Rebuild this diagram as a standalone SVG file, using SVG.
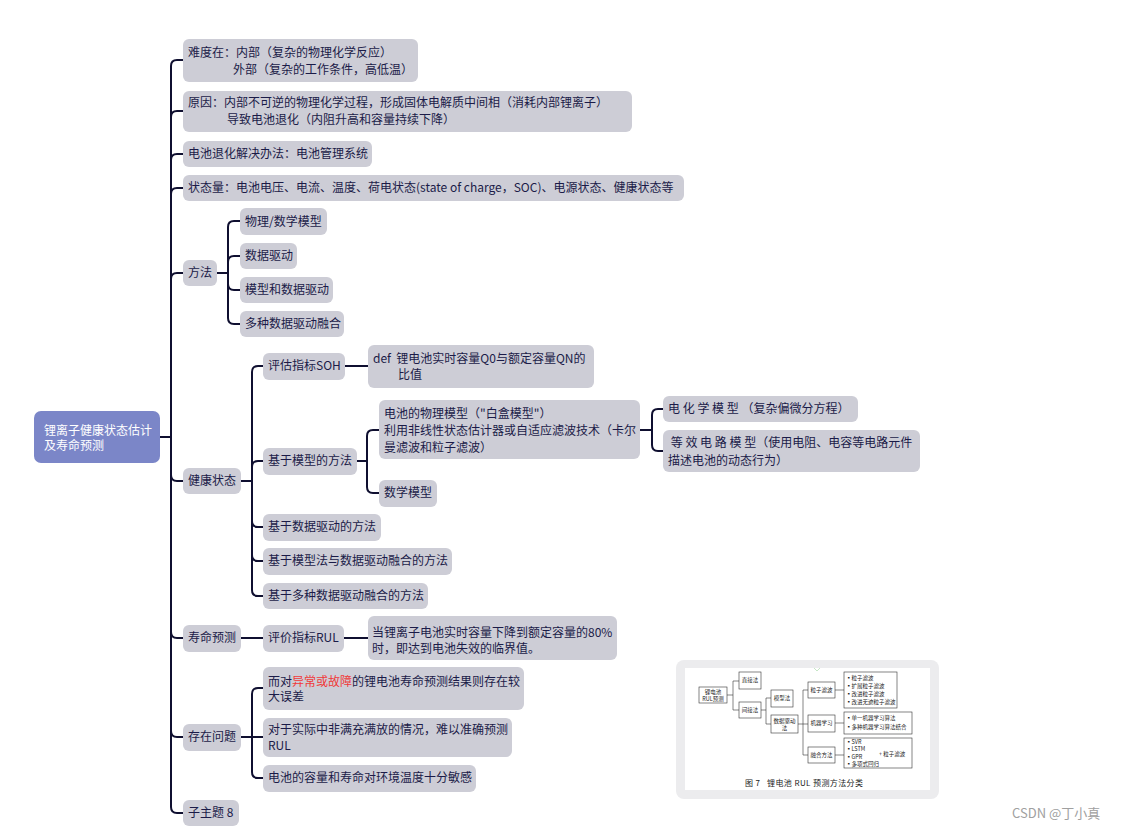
<svg xmlns="http://www.w3.org/2000/svg" width="1126" height="831" viewBox="0 0 1126 831">
<style>
.n{fill:#cdcdd6}
.t{font-family:"Noto Sans CJK SC","Noto Sans",sans-serif;font-size:12px;fill:#1b1b48}
.r{fill:#f03a3a}
.c{stroke:#0f0f30;stroke-width:2;fill:none}
.fb{fill:#fff;stroke:#333;stroke-width:0.6}
.fl{stroke:#333;stroke-width:0.6;fill:none}
.ft{font-family:"Noto Sans CJK SC",sans-serif;font-size:5.5px;fill:#222}
.fm{text-anchor:middle}
</style>
<rect width="1126" height="831" fill="#fff"/>

<g id="connectors">
  <path class="c" d="M160,437 H171"/>
  <path class="c" d="M171,66 V807"/>
  <path class="c" d="M171,66 Q171,60 177,60 H183"/>
  <path class="c" d="M171,117 Q171,111 177,111 H183"/>
  <path class="c" d="M171,160 Q171,154 177,154 H183"/>
  <path class="c" d="M171,194 Q171,188 177,188 H183"/>
  <path class="c" d="M171,279 Q171,273 177,273 H183"/>
  <path class="c" d="M171,475 Q171,481 177,481 H183"/>
  <path class="c" d="M171,632 Q171,638 177,638 H183"/>
  <path class="c" d="M171,731 Q171,737 177,737 H183"/>
  <path class="c" d="M171,807 Q171,813 177,813 H183"/>

  <path class="c" d="M217,273 H228"/>
  <path class="c" d="M228,227 V318"/>
  <path class="c" d="M228,227 Q228,221 234,221 H240"/>
  <path class="c" d="M228,262 Q228,256 234,256 H240"/>
  <path class="c" d="M228,284 Q228,290 234,290 H240"/>
  <path class="c" d="M228,318 Q228,324 234,324 H240"/>

  <path class="c" d="M241,481 H252"/>
  <path class="c" d="M252,372 V590"/>
  <path class="c" d="M252,372 Q252,366 258,366 H263"/>
  <path class="c" d="M252,467 Q252,461 258,461 H263"/>
  <path class="c" d="M252,521 Q252,527 258,527 H263"/>
  <path class="c" d="M252,555 Q252,561 258,561 H263"/>
  <path class="c" d="M252,590 Q252,596 258,596 H263"/>
  <path class="c" d="M345,366 H368"/>

  <path class="c" d="M357,461 H367"/>
  <path class="c" d="M367,436 V487"/>
  <path class="c" d="M367,436 Q367,430 373,430 H379"/>
  <path class="c" d="M367,487 Q367,493 373,493 H379"/>

  <path class="c" d="M640,430 H652"/>
  <path class="c" d="M652,415 V445"/>
  <path class="c" d="M652,415 Q652,409 658,409 H663"/>
  <path class="c" d="M652,445 Q652,451 658,451 H663"/>

  <path class="c" d="M241,638 H263"/>
  <path class="c" d="M344,638 H368"/>

  <path class="c" d="M241,737 H263"/>
  <path class="c" d="M252,694 V772"/>
  <path class="c" d="M252,694 Q252,688 258,688 H263"/>
  <path class="c" d="M252,772 Q252,778 258,778 H263"/>
</g>

<g id="root">
  <rect x="34" y="411" width="126" height="52" rx="7" fill="#7b86c8"/>
  <text class="t" x="44" y="435" style="fill:#fff">锂离子健康状态估计</text>
  <text class="t" x="44" y="450" style="fill:#fff">及寿命预测</text>
</g>

<g id="n-difficulty">
  <rect class="n" x="183" y="39" width="235" height="43" rx="6"/>
  <text class="t" x="188" y="57">难度在：内部（复杂的物理化学反应）</text>
  <text class="t" x="233" y="74">外部（复杂的工作条件，高低温）</text>
</g>
<g id="n-reason">
  <rect class="n" x="183" y="91" width="449" height="41" rx="6"/>
  <text class="t" x="188" y="107">原因：内部不可逆的物理化学过程，形成固体电解质中间相（消耗内部锂离子）</text>
  <text class="t" x="227" y="124">导致电池退化（内阻升高和容量持续下降）</text>
</g>
<g id="n-solution">
  <rect class="n" x="183" y="141" width="189" height="26" rx="6"/>
  <text class="t" x="188" y="158">电池退化解决办法：电池管理系统</text>
</g>
<g id="n-state">
  <rect class="n" x="183" y="175" width="501" height="26" rx="6"/>
  <text class="t" x="188" y="192">状态量：电池电压、电流、温度、荷电状态(state of charge，SOC)、电源状态、健康状态等</text>
</g>

<g id="n-method">
  <rect class="n" x="183" y="260" width="34" height="26" rx="6"/>
  <text class="t" x="188" y="277">方法</text>
</g>
<g id="n-method-1">
  <rect class="n" x="240" y="208" width="87" height="27" rx="6"/>
  <text class="t" x="245" y="226">物理/数学模型</text>
</g>
<g id="n-method-2">
  <rect class="n" x="240" y="243" width="57" height="26" rx="6"/>
  <text class="t" x="245" y="260">数据驱动</text>
</g>
<g id="n-method-3">
  <rect class="n" x="240" y="277" width="93" height="26" rx="6"/>
  <text class="t" x="245" y="294">模型和数据驱动</text>
</g>
<g id="n-method-4">
  <rect class="n" x="240" y="311" width="104" height="26" rx="6"/>
  <text class="t" x="245" y="328">多种数据驱动融合</text>
</g>

<g id="n-health">
  <rect class="n" x="183" y="468" width="58" height="26" rx="6"/>
  <text class="t" x="188" y="485">健康状态</text>
</g>
<g id="n-soh">
  <rect class="n" x="263" y="353" width="82" height="27" rx="6"/>
  <text class="t" x="268" y="370">评估指标SOH</text>
</g>
<g id="n-soh-def">
  <rect class="n" x="368" y="345" width="226" height="43" rx="6"/>
  <text class="t" x="373" y="363" xml:space="preserve">def  锂电池实时容量Q0与额定容量QN的</text>
  <text class="t" x="398" y="379">比值</text>
</g>
<g id="n-model-based">
  <rect class="n" x="263" y="448" width="94" height="27" rx="6"/>
  <text class="t" x="268" y="465">基于模型的方法</text>
</g>
<g id="n-physical">
  <rect class="n" x="379" y="400" width="261" height="59" rx="6"/>
  <text class="t" x="384" y="418">电池的物理模型（"白盒模型"）</text>
  <text class="t" x="384" y="435">利用非线性状态估计器或自适应滤波技术（卡尔</text>
  <text class="t" x="384" y="452">曼滤波和粒子滤波）</text>
</g>
<g id="n-electrochem">
  <rect class="n" x="663" y="396" width="195" height="26" rx="6"/>
  <text class="t" x="668" y="413" xml:space="preserve">电 化 学 模 型 （复杂偏微分方程）</text>
</g>
<g id="n-circuit">
  <rect class="n" x="663" y="430" width="257" height="42" rx="6"/>
  <text class="t" x="668" y="447" xml:space="preserve"> 等 效 电 路 模 型（使用电阻、电容等电路元件</text>
  <text class="t" x="668" y="465">描述电池的动态行为）</text>
</g>
<g id="n-math">
  <rect class="n" x="379" y="480" width="58" height="27" rx="6"/>
  <text class="t" x="384" y="497">数学模型</text>
</g>
<g id="n-data">
  <rect class="n" x="263" y="514" width="118" height="27" rx="6"/>
  <text class="t" x="268" y="531">基于数据驱动的方法</text>
</g>
<g id="n-fusion">
  <rect class="n" x="263" y="548" width="189" height="27" rx="6"/>
  <text class="t" x="268" y="565">基于模型法与数据驱动融合的方法</text>
</g>
<g id="n-multi">
  <rect class="n" x="263" y="583" width="165" height="26" rx="6"/>
  <text class="t" x="268" y="600">基于多种数据驱动融合的方法</text>
</g>

<g id="n-life">
  <rect class="n" x="183" y="625" width="58" height="27" rx="6"/>
  <text class="t" x="188" y="642">寿命预测</text>
</g>
<g id="n-rul">
  <rect class="n" x="263" y="625" width="81" height="27" rx="6"/>
  <text class="t" x="268" y="642">评价指标RUL</text>
</g>
<g id="n-rul-def">
  <rect class="n" x="368" y="616" width="249" height="44" rx="6"/>
  <text class="t" x="372" y="637">当锂离子电池实时容量下降到额定容量的80%</text>
  <text class="t" x="372" y="653">时，即达到电池失效的临界值。</text>
</g>

<g id="n-problem">
  <rect class="n" x="183" y="724" width="58" height="27" rx="6"/>
  <text class="t" x="188" y="741">存在问题</text>
</g>
<g id="n-problem-1">
  <rect class="n" x="263" y="667" width="261" height="43" rx="6"/>
  <text class="t" x="268" y="686">而对<tspan class="r">异常或故障</tspan>的锂电池寿命预测结果则存在较</text>
  <text class="t" x="268" y="701">大误差</text>
</g>
<g id="n-problem-2">
  <rect class="n" x="263" y="718" width="249" height="39" rx="6"/>
  <text class="t" x="268" y="734">对于实际中非满充满放的情况，难以准确预测</text>
  <text class="t" x="268" y="750">RUL</text>
</g>
<g id="n-problem-3">
  <rect class="n" x="263" y="765" width="213" height="27" rx="6"/>
  <text class="t" x="268" y="782">电池的容量和寿命对环境温度十分敏感</text>
</g>
<g id="n-sub8">
  <rect class="n" x="183" y="800" width="56" height="26" rx="6"/>
  <text class="t" x="188" y="817">子主题 8</text>
</g>

<g id="figure">
  <rect x="676" y="660" width="263" height="139" rx="8" fill="#ececee"/>
  <rect x="685" y="668" width="245" height="122" fill="#fff"/>
  <polyline points="814,668 817,671 820,668" fill="none" stroke="#b8e0b8" stroke-width="0.8"/>
  <path class="fl" d="M727,695 H733 M733,681 V710 M733,681 H739 M733,710 H739 M761,710 H766 M766,698 V724 M766,698 H771 M766,724 H771 M798,724 H803 M803,690 V755 M803,690 H808 M803,724 H808 M803,755 H808 M835,690 H844 M835,723 H844 M835,755 H844"/>
  <rect class="fb" x="699" y="687" width="28" height="16"/>
  <text class="ft fm" x="713" y="694">锂电池</text>
  <text class="ft fm" x="713" y="701">RUL预测</text>
  <rect class="fb" x="739" y="672" width="22" height="17"/>
  <text class="ft fm" x="750" y="682">直接法</text>
  <rect class="fb" x="739" y="702" width="22" height="16"/>
  <text class="ft fm" x="750" y="712">间接法</text>
  <rect class="fb" x="771" y="690" width="22" height="17"/>
  <text class="ft fm" x="782" y="700">模型法</text>
  <rect class="fb" x="771" y="715" width="27" height="18"/>
  <text class="ft fm" x="784.5" y="723">数据驱动</text>
  <text class="ft fm" x="784.5" y="730">法</text>
  <rect class="fb" x="808" y="682" width="27" height="16"/>
  <text class="ft fm" x="821.5" y="692">粒子滤波</text>
  <rect class="fb" x="808" y="715" width="27" height="17"/>
  <text class="ft fm" x="821.5" y="725">机器学习</text>
  <rect class="fb" x="808" y="747" width="27" height="16"/>
  <text class="ft fm" x="821.5" y="757">融合方法</text>
  <rect class="fb" x="844" y="672" width="53" height="36"/>
  <text class="ft" x="846" y="680">▪粒子滤波</text>
  <text class="ft" x="846" y="688">▪扩展粒子滤波</text>
  <text class="ft" x="846" y="696">▪改进粒子滤波</text>
  <text class="ft" x="846" y="704">▪改进无迹粒子滤波</text>
  <rect class="fb" x="844" y="712" width="68" height="22"/>
  <text class="ft" x="846" y="720">▪单一机器学习算法</text>
  <text class="ft" x="846" y="729">▪多种机器学习算法结合</text>
  <rect class="fb" x="844" y="738" width="68" height="30"/>
  <text class="ft" x="846" y="744">▪SVR</text>
  <text class="ft" x="846" y="751">▪LSTM</text>
  <text class="ft" x="846" y="759">▪GPR</text>
  <text class="ft" x="846" y="766">▪多项式回归</text>
  <text class="ft" x="879" y="756">+ 粒子滤波</text>
  <text class="ft" x="745" y="786" style="font-size:8px" textLength="118" lengthAdjust="spacing" xml:space="preserve">图 7   锂电池 RUL 预测方法分类</text>
</g>

<text id="watermark" x="1012" y="818" style="font-family:'Noto Sans CJK SC','Noto Sans',sans-serif;font-size:13px;fill:#a0a0a0">CSDN @丁小真</text>
</svg>
